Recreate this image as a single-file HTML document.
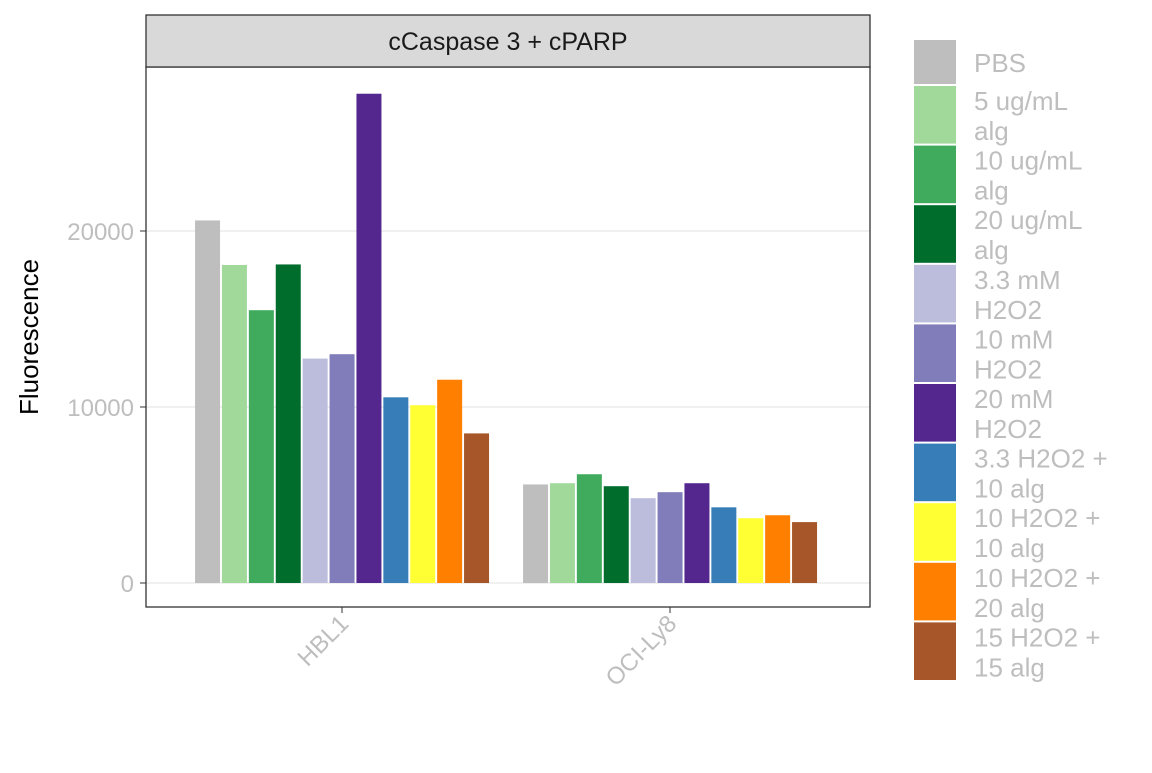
<!DOCTYPE html>
<html><head><meta charset="utf-8"><style>body{margin:0;background:#fff}</style></head><body>
<svg id="c" width="1152" height="768" xmlns="http://www.w3.org/2000/svg" font-family="Liberation Sans, Arial, sans-serif"></svg>
<script>
const categories=["HBL1","OCI-Ly8"];
const treatments=["PBS","5 ug/mL\nalg","10 ug/mL\nalg","20 ug/mL\nalg","3.3 mM\nH2O2","10 mM\nH2O2","20 mM\nH2O2","3.3 H2O2 +\n10 alg","10 H2O2 +\n10 alg","10 H2O2 +\n20 alg","15 H2O2 +\n15 alg"];
const colors=["#bebebe","#a1d99b","#41ab5d","#006d2c","#bcbddc","#807dba","#54278f","#377eb8","#ffff33","#ff7f00","#a65628"];
const hbl1Values=[20600,18070,15500,18100,12750,13000,27800,10550,10100,11550,8500];
const ocily8Values=[5600,5670,6180,5500,4820,5160,5670,4300,3680,3850,3460];
const yTicks=[0,10000,20000];
const svg=document.getElementById('c');const NS="http://www.w3.org/2000/svg";
function mk(t,a,p){const e=document.createElementNS(NS,t);for(const k in a)e.setAttribute(k,a[k]);(p||svg).appendChild(e);return e;}
const L=146,R=870,T=67,B=607;
const y=v=>583-v*(583-407)/10000;
const xc=i=>342+i*328;
mk('rect',{x:L,y:T,width:R-L,height:B-T,fill:'#fff'});
yTicks.forEach(t=>{const g=mk('line',{x1:L,x2:R,y1:y(t),y2:y(t),stroke:'#ebebeb','stroke-width':1.5});

mk('line',{x1:L-6,x2:L,y1:y(t),y2:y(t),stroke:'#333','stroke-width':1});
const tx=mk('text',{x:L-12,y:y(t)+9,'text-anchor':'end','font-size':24,fill:'#bebebe'});tx.textContent=t;
});
const series=[hbl1Values,ocily8Values];
const bw=25,step=26.9;
series.forEach((vals,ci)=>{vals.forEach((v,i)=>{const x=xc(ci)-step*5.5+i*step+1;
const r=mk('rect',{x:x,y:y(v),width:bw,height:y(0)-y(v),fill:colors[i]});
});
mk('line',{x1:xc(ci),x2:xc(ci),y1:B,y2:B+6,stroke:'#333'});
const tx=mk('text',{x:0,y:0,'text-anchor':'end','font-size':24,fill:'#bebebe',transform:`translate(${xc(ci)+8},${B+18}) rotate(-45)`});tx.textContent=categories[ci];
});
mk('rect',{x:L,y:T,width:R-L,height:B-T,fill:'none',stroke:'#333','stroke-width':1.3});
const st=mk('rect',{x:L,y:15,width:R-L,height:52,fill:'#d9d9d9',stroke:'#333','stroke-width':1.3});

const s=mk('text',{x:(L+R)/2,y:50,'text-anchor':'middle','font-size':25,fill:'#1a1a1a'});s.textContent="cCaspase 3 + cPARP";

const yt=mk('text',{x:0,y:0,'text-anchor':'middle','font-size':26,fill:'#000',transform:'translate(38,337) rotate(-90)'});yt.textContent="Fluorescence";

treatments.forEach((t,i)=>{const ty=i==0?40:86+(i-1)*59.6;const h=i==0?44:57.6;
const k=mk('rect',{x:914,y:ty,width:42,height:h,fill:colors[i]});

const lines=t.split('\n');
lines.forEach((ln,j)=>{const tx=mk('text',{x:974,y:(lines.length==1?ty+32:ty+24+j*30),'font-size':26,fill:'#bebebe'});tx.textContent=ln;
});});
</script>
</body></html>
